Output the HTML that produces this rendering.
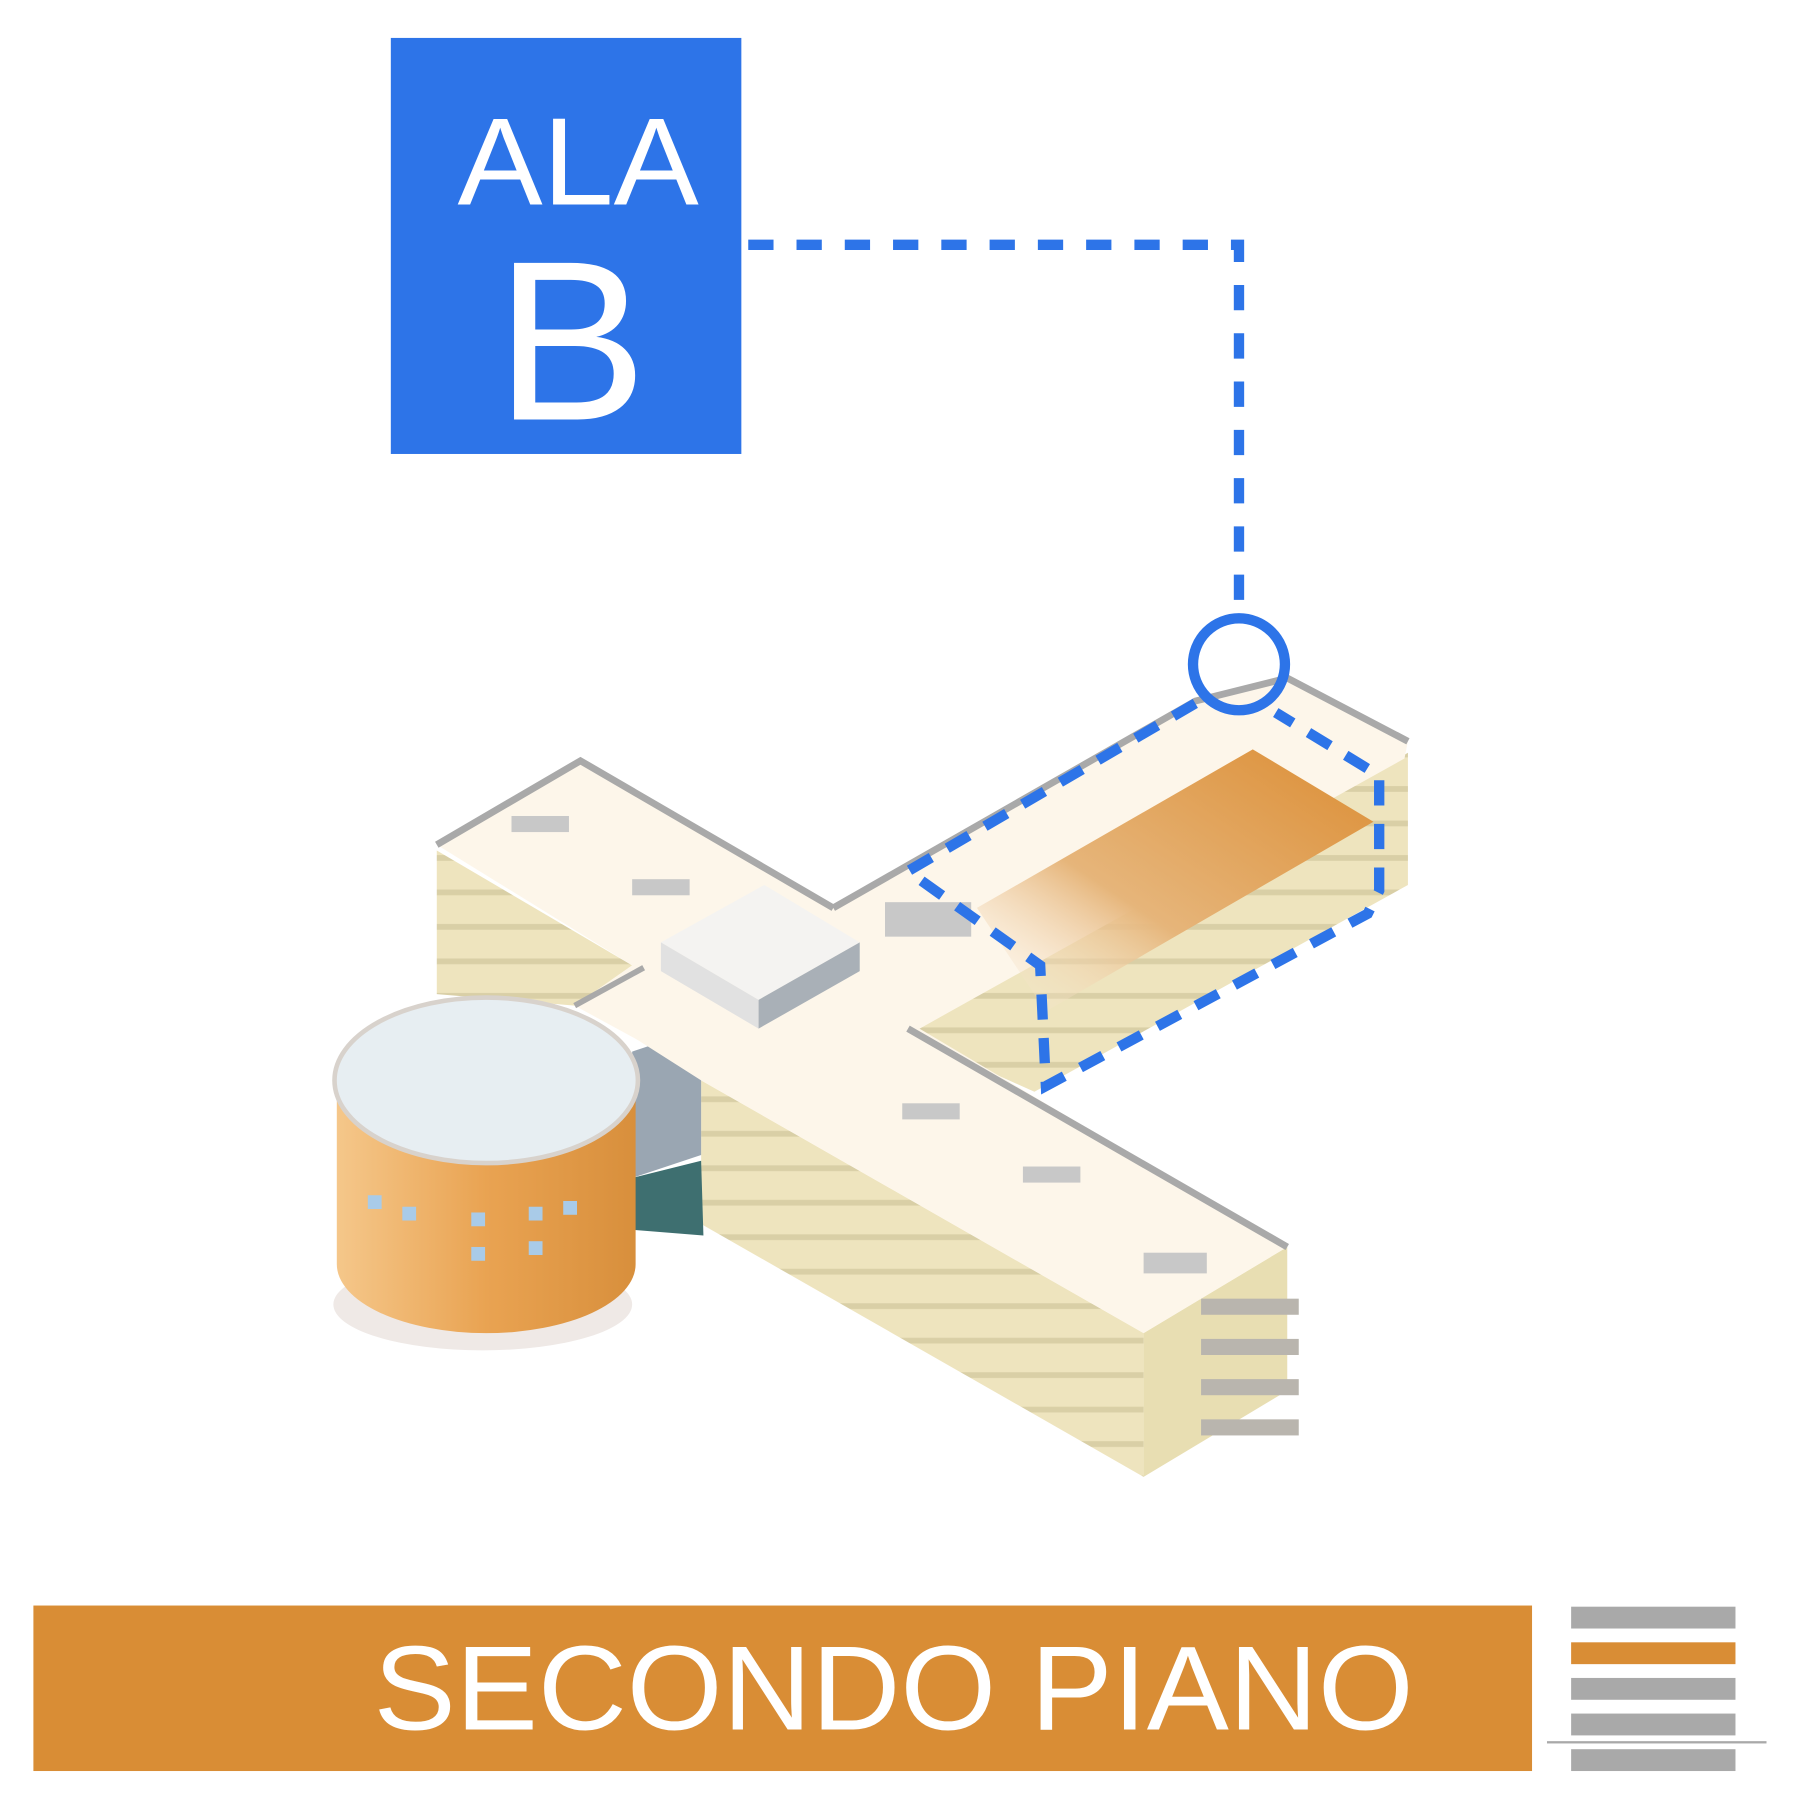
<!DOCTYPE html>
<html><head><meta charset="utf-8"><style>
html,body{margin:0;padding:0;background:#fff;}
svg{display:block;}
</style></head><body>
<svg width="1793" height="1817" viewBox="0 0 1560 1581" xmlns="http://www.w3.org/2000/svg">
<defs>
<linearGradient id="og" x1="1" y1="0" x2="0" y2="1">
<stop offset="0" stop-color="#DC8E35"/><stop offset="0.6" stop-color="#E6B57A"/><stop offset="1" stop-color="#FDF6EA" stop-opacity="0"/>
</linearGradient>
<linearGradient id="cyl" x1="0" y1="0" x2="1" y2="0">
<stop offset="0" stop-color="#F5C78A"/><stop offset="0.5" stop-color="#E9A352"/><stop offset="1" stop-color="#D88F3C"/>
</linearGradient>
<pattern id="stripes" width="20" height="30" patternUnits="userSpaceOnUse">
<rect width="20" height="30" fill="#EEE4BE"/><rect y="24" width="20" height="5" fill="#D9CFA6"/>
</pattern>
</defs>
<!-- blue label box -->
<rect x="340" y="33" width="305" height="362" fill="#2D74E8"/>
<text x="503" y="178" font-family="Liberation Sans, sans-serif" font-size="108" fill="#fff" text-anchor="middle" textLength="210" lengthAdjust="spacingAndGlyphs">ALA</text>
<text x="497" y="365" font-family="Liberation Sans, sans-serif" font-size="198" fill="#fff" text-anchor="middle">B</text>
<!-- connector -->
<path d="M651 213 H1078 V530" fill="none" stroke="#2D74E8" stroke-width="9" stroke-dasharray="22 20"/>
<!-- building -->
<ellipse cx="420" cy="1135" rx="130" ry="40" fill="#EFE9E6"/>
<!-- left wing facade -->
<polygon points="380,740 550,840 500,875 380,865" fill="url(#stripes)"/>
<!-- front wing left facade -->
<polygon points="610,940 995,1160 995,1285 610,1065" fill="url(#stripes)"/>
<!-- front wing end -->
<polygon points="995,1160 1120,1085 1120,1210 995,1285" fill="#E8DEB2"/>
<g fill="#B9B5AE"><rect x="1045" y="1130" width="85" height="14"/><rect x="1045" y="1165" width="85" height="14"/><rect x="1045" y="1200" width="85" height="14"/><rect x="1045" y="1235" width="85" height="14"/></g>
<!-- right wing facade -->
<polygon points="800,895 1225,655 1225,770 900,950 800,905" fill="url(#stripes)"/>
<!-- glass facade -->
<polygon points="550,915 610,895 610,1005 550,1025" fill="#9AA6B2"/>
<polygon points="550,1025 610,1010 612,1075 550,1070" fill="#3E6F70"/>
<!-- roof -->
<polygon points="380,735 505,662 725,790 1040,610 1120,590 1225,645 1222,660 800,895 1120,1085 995,1160 610,940 555,905 500,875 550,840" fill="#FDF6EA"/>
<polyline points="380,735 505,662 725,790" fill="none" stroke="#A9A9A9" stroke-width="6"/>
<polyline points="725,790 1040,610 1120,590 1225,645" fill="none" stroke="#A9A9A9" stroke-width="6"/>
<polyline points="790,895 1120,1085" fill="none" stroke="#A9A9A9" stroke-width="6"/>
<polyline points="500,875 560,842" fill="none" stroke="#A9A9A9" stroke-width="5"/>
<polygon points="850,790 1090,652 1195,715 910,880" fill="url(#og)"/>
<!-- central block -->
<polygon points="575,820 665,770 748,820 660,870" fill="#F4F3F1"/>
<polygon points="575,820 660,870 660,895 575,845" fill="#E1E1E1"/>
<polygon points="660,870 748,820 748,845 660,895" fill="#A9B0B7"/>
<!-- roof units -->
<g fill="#C8C8C8"><rect x="445" y="710" width="50" height="14"/><rect x="550" y="765" width="50" height="14"/><rect x="770" y="785" width="75" height="30"/><rect x="785" y="960" width="50" height="14"/><rect x="890" y="1015" width="50" height="14"/><rect x="995" y="1090" width="55" height="18"/></g>
<!-- cylinder -->
<path d="M293 940 V1100 A130 60 0 0 0 553 1100 V940 Z" fill="url(#cyl)"/>
<ellipse cx="423" cy="940" rx="132" ry="72" fill="#E7EEF2" stroke="#D8D2CC" stroke-width="4"/>
<g fill="#A9CBE8"><rect x="320" y="1040" width="12" height="12"/><rect x="350" y="1050" width="12" height="12"/><rect x="410" y="1055" width="12" height="12"/><rect x="460" y="1050" width="12" height="12"/><rect x="490" y="1045" width="12" height="12"/><rect x="410" y="1085" width="12" height="12"/><rect x="460" y="1080" width="12" height="12"/></g>
<!-- dashed outline of wing -->
<path d="M1040 612 L790 758 L905 840 L910 945 L1190 795 L1200 775 L1200 675 L1110 620" fill="none" stroke="#2D74E8" stroke-width="9" stroke-dasharray="22 16"/>
<circle cx="1078" cy="578" r="40" fill="none" stroke="#2D74E8" stroke-width="9"/>
<!-- bottom bar -->
<rect x="29" y="1397" width="1304" height="144" fill="#D98D35"/>
<text x="325" y="1505" font-family="Liberation Sans, sans-serif" font-size="104" fill="#fff" textLength="905" lengthAdjust="spacingAndGlyphs">SECONDO PIANO</text>
<!-- legend -->
<rect x="1367" y="1398" width="143" height="19" fill="#A9A9A9"/>
<rect x="1367" y="1429" width="143" height="19" fill="#D98D35"/>
<rect x="1367" y="1460" width="143" height="19" fill="#A9A9A9"/>
<rect x="1367" y="1491" width="143" height="19" fill="#A9A9A9"/>
<rect x="1346" y="1515" width="191" height="2" fill="#A9A9A9"/>
<rect x="1367" y="1522" width="143" height="19" fill="#A9A9A9"/>
</svg>
</body></html>
